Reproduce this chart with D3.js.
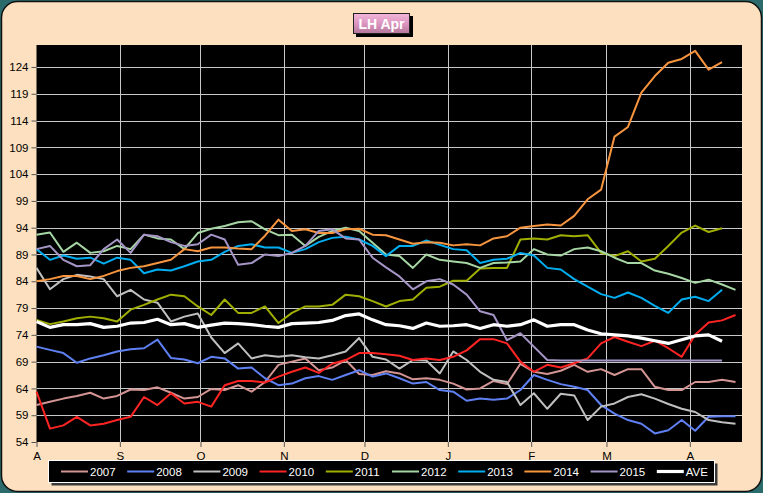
<!DOCTYPE html>
<html>
<head>
<meta charset="utf-8">
<script src="https://cdn.jsdelivr.net/npm/d3@7"></script>
<style>
    html, body { margin: 0; padding: 0; background: #2b6b6b; }
    svg { display: block; }
</style>
</head>
<body>
<div id="lh_apr_chart"></div>
<script>
// sample dates (every 5 days), shorter series just stop earlier
const dates = [
    "2014-08-01", "2014-08-06", "2014-08-11", "2014-08-16", "2014-08-21", "2014-08-26", "2014-08-31",
    "2014-09-05", "2014-09-10", "2014-09-15", "2014-09-20", "2014-09-25", "2014-09-30",
    "2014-10-05", "2014-10-10", "2014-10-15", "2014-10-20", "2014-10-25", "2014-10-30",
    "2014-11-04", "2014-11-09", "2014-11-14", "2014-11-19", "2014-11-24", "2014-11-29",
    "2014-12-04", "2014-12-09", "2014-12-14", "2014-12-19", "2014-12-24", "2014-12-29",
    "2015-01-03", "2015-01-08", "2015-01-13", "2015-01-18", "2015-01-23", "2015-01-28",
    "2015-02-02", "2015-02-07", "2015-02-12", "2015-02-17", "2015-02-22", "2015-02-27",
    "2015-03-04", "2015-03-09", "2015-03-14", "2015-03-19", "2015-03-24", "2015-03-29",
    "2015-04-03", "2015-04-08", "2015-04-13", "2015-04-18"
];

const s2007 = [60.9, 61.5, 62.1, 62.6, 63.2, 62.1, 62.6, 63.8, 63.7, 64.2, 63.2, 62.1, 62.4, 63.9,
    63.7, 64.6, 63.4, 65.2, 68.4, 69.0, 69.6, 67.4, 67.9, 69.3, 66.7, 66.5, 67.2,
    66.8, 65.7, 65.9, 65.6, 64.9, 63.8, 64.0, 65.4, 64.8, 68.6, 67.1, 66.7, 67.3,
    68.4, 67.1, 67.6, 66.5, 67.6, 67.6, 64.3, 63.7, 63.7, 65.2, 65.2, 65.6, 65.2];
const s2008 = [71.8, 71.2, 70.6, 68.8, 69.6, 70.2, 70.9, 71.3, 71.5, 73.1, 69.7, 69.4, 68.7, 69.9,
    69.6, 67.7, 67.9, 65.9, 64.6, 64.9, 65.9, 66.3, 65.6, 66.5, 67.4, 66.2, 66.8,
    65.9, 64.9, 65.2, 63.7, 63.4, 61.7, 62.1, 61.9, 62.1, 63.7, 66.5, 65.6, 64.8,
    64.3, 63.7, 60.9, 59.3, 58.1, 57.4, 55.6, 56.2, 58.1, 56.1, 58.7, 58.8, 58.8];
const s2009 = [86.5, 82.5, 84.4, 85.2, 84.9, 84.4, 81.2, 82.4, 80.6, 80.0, 76.5, 77.4, 78.0, 73.5,
    70.6, 72.4, 69.6, 70.2, 69.9, 70.2, 69.8, 69.6, 70.2, 70.9, 73.4, 69.9, 69.4,
    67.7, 69.3, 69.2, 66.8, 70.9, 69.3, 67.1, 65.6, 65.2, 60.9, 63.1, 60.2, 63.0,
    62.7, 58.1, 60.6, 61.2, 62.4, 62.9, 62.1, 61.1, 60.2, 59.6, 58.1, 57.7, 57.4];
const s2010 = [63.4, 56.5, 57.1, 58.7, 57.1, 57.4, 58.1, 58.7, 62.4, 60.9, 63.1, 61.2, 61.5, 60.6,
    64.6, 65.4, 65.4, 65.1, 66.2, 67.1, 67.9, 66.9, 68.6, 69.3, 70.6, 70.6, 70.4,
    70.1, 69.3, 69.6, 69.3, 69.9, 71.1, 73.2, 73.2, 72.4, 69.0, 67.1, 68.4, 67.9,
    68.7, 69.6, 72.4, 73.6, 72.7, 71.9, 72.9, 71.5, 69.9, 74.0, 76.3, 76.7, 77.7];
const s2011 = [76.8, 76.0, 76.5, 77.1, 77.4, 77.1, 76.5, 78.7, 79.6, 80.6, 81.5, 81.2, 79.3, 77.7,
    80.6, 78.1, 78.1, 79.3, 76.2, 78.1, 79.3, 79.3, 79.6, 81.5, 81.2, 80.3, 79.3,
    80.3, 80.6, 82.8, 83.0, 84.1, 84.1, 86.4, 86.5, 86.5, 91.8, 92.0, 91.8, 92.6,
    92.4, 92.6, 89.3, 88.7, 89.6, 87.7, 88.2, 90.6, 93.1, 94.4, 93.2, 93.9];
const s2012 = [92.7, 93.1, 89.5, 91.2, 89.3, 89.6, 90.6, 90.0, 92.7, 92.0, 91.8, 90.0, 93.0, 93.8,
    94.3, 95.0, 95.2, 93.7, 92.6, 92.7, 90.6, 92.3, 93.4, 94.0, 93.4, 91.2, 89.0,
    88.7, 86.5, 89.0, 88.0, 87.7, 87.4, 86.5, 87.4, 87.5, 87.7, 90.0, 89.0, 88.8,
    90.0, 90.3, 89.6, 88.4, 87.4, 87.4, 86.0, 85.4, 84.6, 83.7, 84.3, 83.4, 82.4];
const s2013 = [90.0, 88.0, 88.8, 88.2, 88.4, 87.3, 88.4, 88.0, 85.5, 86.2, 86.0, 86.8, 87.7, 88.0,
    89.5, 90.6, 90.9, 90.3, 90.3, 89.3, 90.0, 91.3, 92.1, 92.3, 91.8, 90.6, 88.7,
    90.6, 90.6, 91.6, 90.8, 90.0, 89.8, 87.4, 88.0, 88.2, 89.3, 88.8, 86.5, 86.2,
    84.4, 83.0, 81.6, 80.9, 81.9, 80.9, 79.4, 78.1, 80.6, 81.1, 80.3, 82.4];
const s2014 = [84.0, 84.4, 85.0, 85.0, 84.4, 85.0, 85.9, 86.5, 86.8, 87.4, 88.0, 90.0, 89.6, 90.3,
    90.3, 90.1, 90.0, 92.5, 95.5, 93.4, 93.7, 93.0, 93.0, 93.7, 93.8, 92.7, 92.6,
    91.8, 91.0, 91.3, 91.2, 90.7, 90.9, 90.7, 92.0, 92.4, 94.0, 94.3, 94.6, 94.4,
    96.2, 99.3, 101.1, 111.0, 112.8, 119.2, 122.3, 124.8, 125.5, 127.0, 123.5, 124.9];
const s2015 = [90.0, 90.6, 88.0, 86.8, 87.0, 90.0, 91.8, 89.3, 92.7, 92.4, 91.3, 90.6, 90.9, 92.7,
    91.8, 87.1, 87.4, 89.0, 88.7, 89.3, 90.6, 93.4, 93.7, 92.0, 91.8, 88.4, 86.6,
    84.9, 82.5, 84.0, 84.4, 83.4, 81.5, 78.4, 77.7, 73.0, 74.3, 71.8, 69.3, 69.2,
    69.2, 69.2, 69.2, 69.2, 69.2, 69.2, 69.2, 69.2, 69.2, 69.2, 69.2, 69.2];
const sAve = [76.5, 75.4, 75.9, 75.9, 76.1, 75.4, 75.6, 76.2, 76.3, 76.9, 75.9, 76.1, 75.4, 75.8,
    76.2, 76.1, 75.9, 75.6, 75.4, 76.1, 76.2, 76.3, 76.7, 77.6, 77.9, 76.8, 75.9,
    75.7, 75.2, 76.2, 75.6, 75.7, 75.9, 75.2, 75.9, 75.6, 75.9, 76.8, 75.6, 75.9,
    75.9, 74.9, 74.2, 74.0, 73.8, 73.4, 72.9, 72.4, 73.1, 73.8, 74.0, 72.8];

const seriesNames = ["2007", "2008", "2009", "2010", "2011", "2012", "2013", "2014", "2015", "AVE"];
const seriesValues = [s2007, s2008, s2009, s2010, s2011, s2012, s2013, s2014, s2015, sAve];
const yTicks = [54, 59, 64, 69, 74, 79, 84, 89, 94, 99, 104, 109, 114, 119, 124];

// styles
const seriesColors = ["#d39593", "#5f80f2", "#bfbfbf", "#ff2424", "#9fae00",
    "#a6d6a4", "#00aef0", "#f7953f", "#a595c6", "#ffffff"];
const seriesWidths = [2, 2, 2, 2, 2, 2, 2, 2, 2, 3.2];

const canvWidth = 763, canvHeight = 493;
const plot = {left: 36.5, right: 742, top: 45, bottom: 442};
const font = "'Liberation Sans', Arial, sans-serif";

const svg = d3.select('#lh_apr_chart')
    .append('svg')
    .attr('width', canvWidth)
    .attr('height', canvHeight);

// outer frame
svg.append('rect')
    .attr('width', canvWidth).attr('height', canvHeight)
    .attr('fill', '#2b6b6b');
svg.append('rect')
    .attr('x', 1.5).attr('y', 1.5)
    .attr('width', canvWidth - 3).attr('height', canvHeight - 3)
    .attr('rx', 16).attr('ry', 16)
    .attr('fill', '#fde0bf')
    .attr('stroke', '#111')
    .attr('stroke-width', 1.5);

// scales
const parseDate = d3.utcParse('%Y-%m-%d');
const xDates = dates.map(parseDate);
const x = d3.scaleUtc()
    .domain([new Date(Date.UTC(2014, 7, 1)), new Date(Date.UTC(2015, 3, 20, 10))])
    .range([plot.left, plot.right]);
const y = d3.scaleLinear()
    .domain([54, 128.1])
    .range([plot.bottom, plot.top]);
const monthTicks = d3.utcMonth.range(x.domain()[0], x.domain()[1]);

// plot area
svg.append('rect')
    .attr('x', plot.left).attr('y', plot.top)
    .attr('width', plot.right - plot.left).attr('height', plot.bottom - plot.top)
    .attr('fill', '#000');

// grid
svg.append('g')
    .selectAll('line')
    .data(yTicks.slice(1))
    .join('line')
    .attr('x1', plot.left).attr('x2', plot.right)
    .attr('y1', d => Math.round(y(d)) + 0.5).attr('y2', d => Math.round(y(d)) + 0.5)
    .attr('stroke', '#c8c8c8')
    .attr('stroke-width', 1);
svg.append('g')
    .selectAll('line')
    .data(monthTicks.slice(1))
    .join('line')
    .attr('x1', d => Math.round(x(d)) + 0.5).attr('x2', d => Math.round(x(d)) + 0.5)
    .attr('y1', plot.top).attr('y2', plot.bottom)
    .attr('stroke', '#c8c8c8')
    .attr('stroke-width', 1);

// axes
const yAxis = svg.append('g')
    .attr('transform', `translate(${plot.left},0)`)
    .call(d3.axisLeft(y).tickValues(yTicks).tickSize(5).tickPadding(3));
const xAxis = svg.append('g')
    .attr('transform', `translate(0,${plot.bottom})`)
    .call(d3.axisBottom(x).tickValues(monthTicks)
        .tickFormat(d => d3.utcFormat('%b')(d).charAt(0))
        .tickSize(5).tickPadding(5));
[yAxis, xAxis].forEach(a => {
    a.select('.domain').remove();
    a.selectAll('line').attr('stroke', '#555');
    a.selectAll('text')
        .attr('fill', '#000')
        .style('font-family', font)
        .style('font-size', '11.5px');
});

// series
const line = d3.line()
    .x((d, i) => x(xDates[i]))
    .y(d => y(d));

svg.append('g')
    .selectAll('path')
    .data(seriesValues)
    .join('path')
    .attr('d', d => line(d))
    .attr('fill', 'none')
    .attr('stroke', (d, i) => seriesColors[i])
    .attr('stroke-width', (d, i) => seriesWidths[i])
    .attr('stroke-linejoin', 'round');

// title
const defs = svg.append('defs');
const grad = defs.append('linearGradient')
    .attr('id', 'titleGrad')
    .attr('x1', 0).attr('y1', 0).attr('x2', 0).attr('y2', 1);
grad.append('stop').attr('offset', '0%').attr('stop-color', '#f3b6da');
grad.append('stop').attr('offset', '55%').attr('stop-color', '#d993bd');
grad.append('stop').attr('offset', '100%').attr('stop-color', '#b4779a');

svg.append('rect')
    .attr('x', 356).attr('y', 16).attr('width', 57).attr('height', 21)
    .attr('fill', '#000');
svg.append('rect')
    .attr('x', 353.5).attr('y', 13.5).attr('width', 56).attr('height', 20)
    .attr('fill', 'url(#titleGrad)')
    .attr('stroke', '#222').attr('stroke-width', 1);
svg.append('text')
    .attr('x', 381.5).attr('y', 24)
    .attr('dy', '0.35em')
    .attr('text-anchor', 'middle')
    .attr('fill', '#fff')
    .style('font-family', "'Liberation Sans Narrow', 'Arial Narrow', 'Liberation Sans', sans-serif")
    .style('font-weight', 'bold')
    .style('font-size', '14px')
    .text('LH Apr');

// legend
const legendX = 48.5, legendY = 460.5, legendW = 666, legendH = 22;
svg.append('rect')
    .attr('x', legendX + 3).attr('y', legendY + 3)
    .attr('width', legendW).attr('height', legendH)
    .attr('fill', '#3a3a3a');
svg.append('rect')
    .attr('x', legendX).attr('y', legendY)
    .attr('width', legendW).attr('height', legendH)
    .attr('fill', '#000')
    .attr('stroke', '#fff').attr('stroke-width', 1);

const legendItems = svg.append('g')
    .selectAll('g')
    .data(seriesNames)
    .join('g')
    .attr('transform', (d, i) => `translate(${61 + i * 66.2},${legendY + legendH / 2})`);
legendItems.append('line')
    .attr('x1', 0).attr('x2', 27)
    .attr('stroke', (d, i) => seriesColors[i])
    .attr('stroke-width', (d, i) => seriesWidths[i]);
legendItems.append('text')
    .attr('x', 29)
    .attr('dy', '0.35em')
    .attr('fill', '#fff')
    .style('font-family', font)
    .style('font-size', '11.5px')
    .text(d => d);
</script>
</body>
</html>
